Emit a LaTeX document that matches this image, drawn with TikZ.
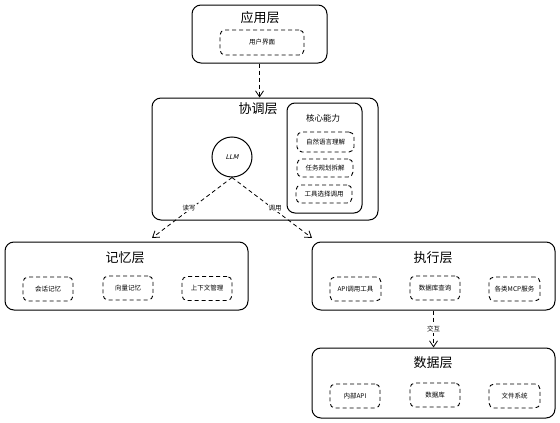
\documentclass[tikz,border=0pt]{standalone}
\usepackage{fontspec}
\setmainfont{Noto Sans CJK SC}
\newfontfamily\llmfont[FakeSlant=0.25]{DejaVu Sans}
\usetikzlibrary{arrows.meta}
\tikzset{
  layerbox/.style={draw, line width=1pt, rounded corners=9pt, minimum width=#1},
  itembox/.style={draw, line width=0.9pt, dash pattern=on 4pt off 3pt, rounded corners=5pt,
    minimum width=#1, font=\fontsize{6.5}{7}\selectfont, inner sep=0pt},
  title/.style={font=\fontsize{13}{14}\selectfont},
  flow/.style={line width=0.8pt, dash pattern=on 4pt off 3pt, -{Straight Barb[length=6pt,width=8pt]}},
  flowlabel/.style={fill=white, inner sep=1pt, font=\fontsize{6.5}{7}\selectfont}
}
\begin{document}
\begin{tikzpicture}[x=1pt, y=-1pt]
  \useasboundingbox (0,0) rectangle (560,423);
  % application layer
  \node[layerbox=135pt, minimum height=58pt] (app) at (259.5,34) {};
  \node[title] (apptitle) at (260,18) {应用层};
  \node[itembox=84pt, minimum height=25pt] (ui) at (262,42.5) {用户界面};
  % coordination layer
  \node[layerbox=226pt, minimum height=122pt] (coord) at (265,159) {};
  \node[title] (coordtitle) at (258,109) {协调层};
  \node[draw, line width=1pt, rounded corners=8pt, minimum width=75pt, minimum height=110pt] (core) at (324.5,158) {};
  \node[font=\fontsize{8.5}{9}\selectfont] (coretitle) at (323,118) {核心能力};
  \node[itembox=57pt, minimum height=20pt] (nlu) at (325.5,142) {自然语言理解};
  \node[itembox=56pt, minimum height=18pt] (plan) at (325,168) {任务规划拆解};
  \node[itembox=56pt, minimum height=18pt] (tool) at (324,194) {工具选择调用};
  \node[draw, circle, line width=1pt, minimum size=40pt, font=\llmfont\fontsize{6.5}{7}\selectfont] (llm) at (232,157) {LLM};
  % memory layer
  \node[layerbox=243pt, minimum height=68pt] (mem) at (126.5,276) {};
  \node[title] (memtitle) at (125,258) {记忆层};
  \node[itembox=50pt, minimum height=24pt] (session) at (48,289) {会话记忆};
  \node[itembox=50pt, minimum height=24pt] (vector) at (128,288) {向量记忆};
  \node[itembox=50pt, minimum height=24pt] (context) at (207,288.5) {上下文管理};
  % execution layer
  \node[layerbox=243pt, minimum height=68pt] (exe) at (433.5,276) {};
  \node[title] (exetitle) at (433,258) {执行层};
  \node[itembox=51pt, minimum height=24pt] (api) at (355.5,289) {API调用工具};
  \node[itembox=50pt, minimum height=24pt] (query) at (435,288) {数据库查询};
  \node[itembox=51pt, minimum height=24pt] (mcp) at (514.5,289) {各类MCP服务};
  % data layer
  \node[layerbox=243pt, minimum height=70pt] (data) at (433.5,383) {};
  \node[title] (datatitle) at (433,363) {数据层};
  \node[itembox=50pt, minimum height=24pt] (inapi) at (355,396) {内部API};
  \node[itembox=50pt, minimum height=24pt] (db) at (435,395) {数据库};
  \node[itembox=51pt, minimum height=24pt] (fs) at (514.5,396) {文件系统};
  % connectors
  \coordinate (memin) at (152,238);
  \coordinate (exein) at (312,238);
  \draw[flow] (app.south) -- (app.south |- coord.north);
  \draw[flow] (llm.south) -- (memin) node[midway, flowlabel, xshift=-3pt] (rw) {读写};
  \draw[flow] (llm.south) -- (exein) node[midway, flowlabel, xshift=3pt] (call) {调用};
  \draw[flow] (exe.south) -- (data.north) node[midway, flowlabel] (inter) {交互};
\end{tikzpicture}
\end{document}
